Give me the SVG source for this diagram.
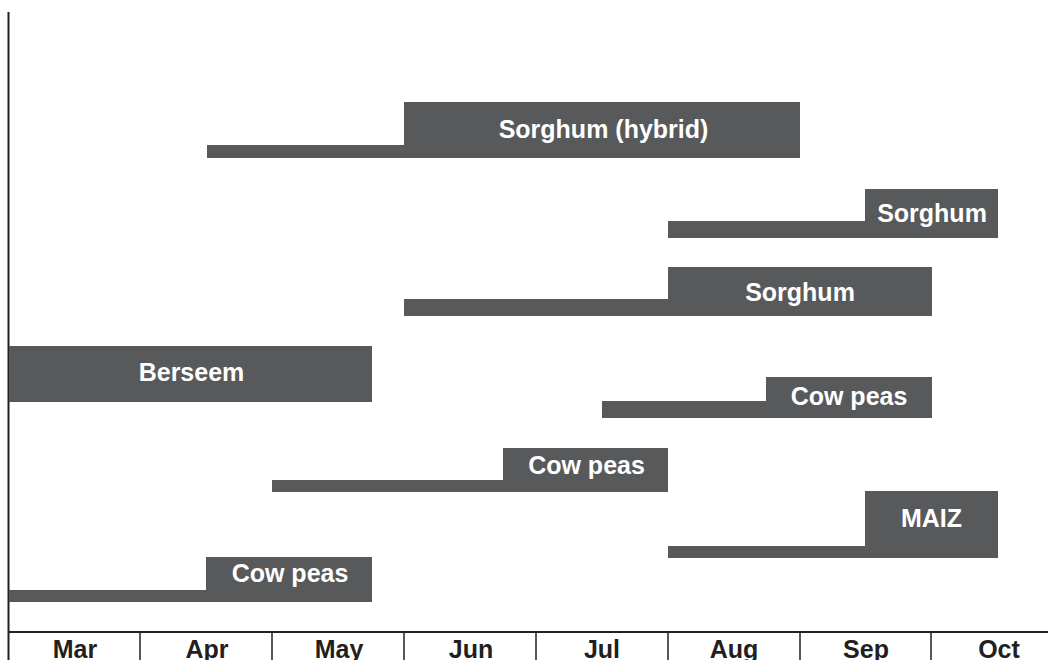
<svg xmlns="http://www.w3.org/2000/svg" width="1048" height="660" viewBox="0 0 1048 660">
<style>
.bar{fill:#58595b}
.lbl{font-family:"Liberation Sans",Arial,sans-serif;font-weight:bold;font-size:25px;fill:#ffffff;text-anchor:middle}
.mon{font-family:"Liberation Sans",Arial,sans-serif;font-weight:bold;font-size:25px;fill:#231f20;text-anchor:middle}
.ax{stroke:#231f20;stroke-width:2;fill:none}
.tk{stroke:#231f20;stroke-width:1.5;fill:none}
</style>
<rect width="1048" height="660" fill="#ffffff"/>
<g id="axes">
<line class="ax" x1="8.5" y1="12" x2="8.5" y2="660"/>
<line class="ax" x1="8" y1="632" x2="1048" y2="632"/>
<line class="tk" x1="140" y1="632" x2="140" y2="660"/>
<line class="tk" x1="272" y1="632" x2="272" y2="660"/>
<line class="tk" x1="404" y1="632" x2="404" y2="660"/>
<line class="tk" x1="536" y1="632" x2="536" y2="660"/>
<line class="tk" x1="668" y1="632" x2="668" y2="660"/>
<line class="tk" x1="800" y1="632" x2="800" y2="660"/>
<line class="tk" x1="931" y1="632" x2="931" y2="660"/>
<text class="mon" x="75" y="658">Mar</text>
<text class="mon" x="207" y="658">Apr</text>
<text class="mon" x="339" y="658">May</text>
<text class="mon" x="471" y="658">Jun</text>
<text class="mon" x="602" y="658">Jul</text>
<text class="mon" x="734" y="658">Aug</text>
<text class="mon" x="866" y="658">Sep</text>
<text class="mon" x="999" y="658">Oct</text>
</g>
<g id="sorghum-hybrid">
<rect class="bar" x="207" y="145" width="197" height="13"/>
<rect class="bar" x="404" y="102" width="396" height="56"/>
<text class="lbl" x="603.5" y="138">Sorghum (hybrid)</text>
</g>
<g id="sorghum-2">
<rect class="bar" x="668" y="221" width="330" height="17"/>
<rect class="bar" x="865" y="189" width="133" height="49"/>
<text class="lbl" x="932" y="222">Sorghum</text>
</g>
<g id="sorghum-3">
<rect class="bar" x="404" y="299" width="528" height="17"/>
<rect class="bar" x="668" y="267" width="264" height="49"/>
<text class="lbl" x="800" y="301">Sorghum</text>
</g>
<g id="berseem">
<rect class="bar" x="9" y="346" width="363" height="56"/>
<text class="lbl" x="191.5" y="381">Berseem</text>
</g>
<g id="cowpeas-1">
<rect class="bar" x="602" y="401" width="330" height="17"/>
<rect class="bar" x="766" y="377" width="166" height="41"/>
<text class="lbl" x="849" y="405">Cow peas</text>
</g>
<g id="cowpeas-2">
<rect class="bar" x="272" y="480" width="396" height="12"/>
<rect class="bar" x="503" y="448" width="165" height="44"/>
<text class="lbl" x="586.5" y="474">Cow peas</text>
</g>
<g id="maiz">
<rect class="bar" x="668" y="546" width="330" height="12"/>
<rect class="bar" x="865" y="491" width="133" height="67"/>
<text class="lbl" x="931.5" y="527">MAIZ</text>
</g>
<g id="cowpeas-3">
<rect class="bar" x="9" y="590" width="363" height="12"/>
<rect class="bar" x="206" y="557" width="166" height="45"/>
<text class="lbl" x="290" y="582">Cow peas</text>
</g>
</svg>
